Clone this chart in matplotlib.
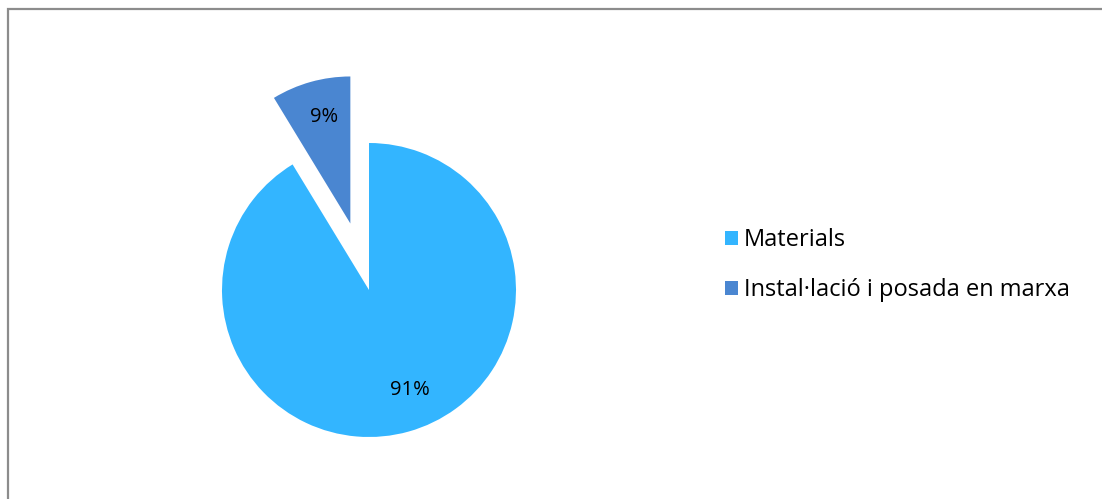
import matplotlib.pyplot as plt
from matplotlib.patches import Rectangle

plt.rcParams['font.family'] = ['Open Sans', 'DejaVu Sans']

labels = ['Materials', 'Instal·lació i posada en marxa']
values = [91.3, 8.7]
colors = ['#33B5FF', '#4A86D1']
explode = [0, 0.47]

W, H = 1102, 499
fig = plt.figure(figsize=(W / 100, H / 100), dpi=100)

# pie axes: centre at pixel (369, 290 from top), radius 147 px
ax = fig.add_axes([0, 0, 1, 1])
wedges, texts, autotexts = ax.pie(values, colors=colors, explode=explode,
                                  startangle=90, counterclock=False,
                                  autopct='%1.0f%%', pctdistance=0.74,
                                  textprops={'fontsize': 14.5, 'color': 'black'},
                                  wedgeprops={'linewidth': 0})
r = 147.0
cx, cy = 369.0, H - 290.0
ax.set_xlim(-cx / r, (W - cx) / r)
ax.set_ylim(-cy / r, (H - cy) / r)
ax.set_aspect('auto')
ax.axis('off')

# Excel puts the big label a bit further right
x0, y0 = autotexts[0].get_position()
autotexts[0].set_position((x0 + 0.075, y0 + 0.035))
x1, y1 = autotexts[1].get_position()
autotexts[1].set_position((x1 + 0.02, y1 + 0.015))

# outer chart frame
fig.patches.append(Rectangle((8 / W, -0.1), 1.2, (H - 9) / H + 0.1,
                             transform=fig.transFigure, fill=False,
                             edgecolor='#8C8C8C', linewidth=1.6))

leg = fig.legend(wedges, labels, loc='center left',
                 bbox_to_anchor=(713 / W, 1 - 265 / H),
                 frameon=False, fontsize=17,
                 handlelength=0.55, handleheight=0.55, handletextpad=0.25,
                 labelspacing=1.1, borderpad=0)

fig.savefig('out.png', dpi=100)
